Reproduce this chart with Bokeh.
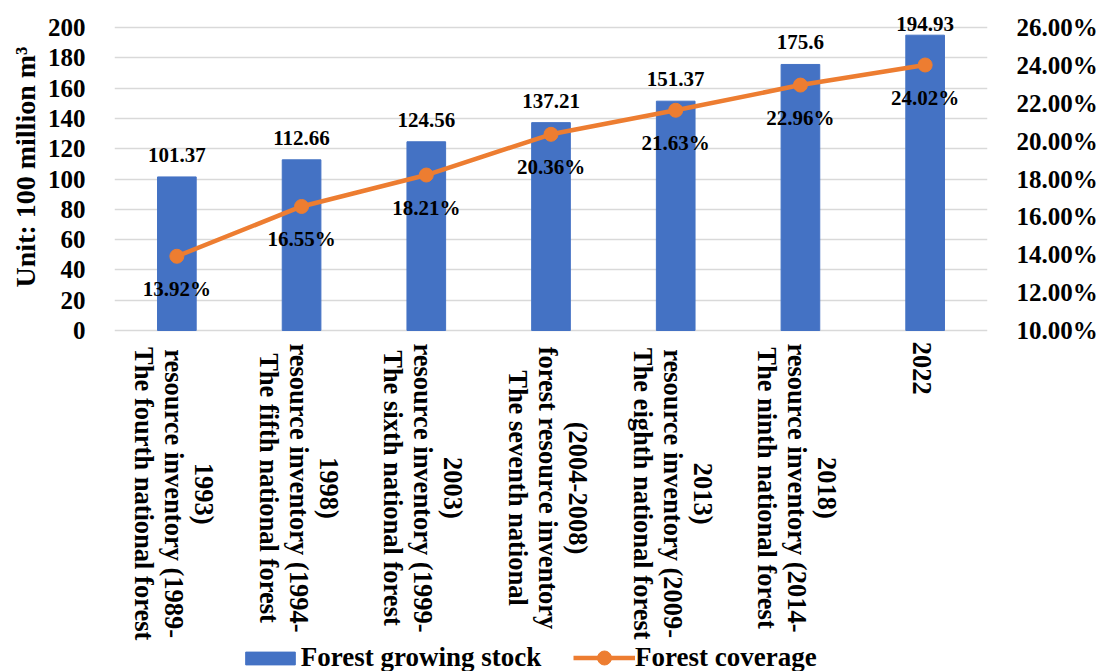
import numpy as np
from bokeh.plotting import figure
from bokeh.models import (Range1d, LinearAxis, FixedTicker, PrintfTickFormatter,
                          ColumnDataSource, LabelSet, Legend, LegendItem, Title)
from bokeh.core.properties import value
from bokeh.embed import file_html
from bokeh.resources import INLINE

# ---------------- data ----------------
categories = [
    "The fourth national forest\nresource inventory (1989-\n1993)",
    "The fifth national forest\nresource inventory (1994-\n1998)",
    "The sixth national forest\nresource inventory (1999-\n2003)",
    "The seventh national\nforest resource inventory\n(2004-2008)",
    "The eighth national forest\nresource inventory (2009-\n2013)",
    "The ninth national forest\nresource inventory (2014-\n2018)",
    "2022",
]
growing_stock = [101.37, 112.66, 124.56, 137.21, 151.37, 175.6, 194.93]
forest_coverage = [13.92, 16.55, 18.21, 20.36, 21.63, 22.96, 24.02]
stock_ticks = list(range(0, 201, 20))
coverage_ticks = list(range(10, 27, 2))

FONT = "Liberation Serif"
BLUE = "#4472C4"
ORANGE = "#ED7D31"
GRID = "#D9D9D9"

W, H = 1100, 671
ZERO_PX = 330          # pixel row of the value-axis minimum
TOP_PX = 27            # pixel row of the value-axis maximum
stock_lo, stock_hi = stock_ticks[0], stock_ticks[-1]
cov_lo, cov_hi = coverage_ticks[0], coverage_ticks[-1]
s_per_px = (stock_hi - stock_lo) / (ZERO_PX - TOP_PX)
c_per_px = (cov_hi - cov_lo) / (ZERO_PX - TOP_PX)
# frame spans the whole canvas height, so texts below the axis are not clipped
y_rng = Range1d(stock_lo - (H - ZERO_PX) * s_per_px, stock_lo + ZERO_PX * s_per_px)
c_rng = Range1d(cov_lo - (H - ZERO_PX) * c_per_px, cov_lo + ZERO_PX * c_per_px)

n = len(categories)
xs = np.arange(n) + 0.5

p = figure(width=W, height=H, output_backend="svg", toolbar_location=None,
           x_range=Range1d(0, n), y_range=y_rng,
           min_border_left=114, min_border_right=110, min_border_top=0,
           min_border_bottom=0)
p.outline_line_color = None
p.background_fill_color = "white"
p.border_fill_color = "white"
p.xaxis.visible = False
p.xgrid.visible = False
p.ygrid.ticker = FixedTicker(ticks=stock_ticks)
p.ygrid.grid_line_color = GRID
p.ygrid.grid_line_width = 1.5

# left axis
ly = p.yaxis[0]
ly.ticker = FixedTicker(ticks=stock_ticks)
ly.axis_line_color = None
ly.major_tick_line_color = None
ly.minor_tick_line_color = None
ly.major_label_standoff = 23
ly.major_label_text_font = FONT
ly.major_label_text_font_style = "bold"
ly.major_label_text_font_size = "25px"
ly.major_label_text_color = "black"

# left axis title (as a side title so it can sit beside the value range)
ytitle = Title(text="Unit: 100 million m\u00b3", align="left", offset=384,
               text_font=FONT, text_font_style="bold", text_font_size="28px",
               text_color="black", standoff=8)
p.add_layout(ytitle, "left")

# right axis
p.extra_y_ranges = {"pct": c_rng}
ry = LinearAxis(y_range_name="pct", ticker=FixedTicker(ticks=coverage_ticks),
                formatter=PrintfTickFormatter(format="%.2f%%"))
ry.axis_line_color = None
ry.major_tick_line_color = None
ry.minor_tick_line_color = None
ry.major_label_standoff = 23
ry.major_label_text_font = FONT
ry.major_label_text_font_style = "bold"
ry.major_label_text_font_size = "25px"
ry.major_label_text_color = "black"
p.add_layout(ry, "right")

# bars
bars = p.vbar(x=xs, bottom=stock_lo, top=growing_stock, width=0.31,
              fill_color=BLUE, line_color=BLUE)

# line
line_r = p.line(x=xs, y=forest_coverage, y_range_name="pct", line_color=ORANGE,
                line_width=4.5)
dots = p.scatter(x=xs, y=forest_coverage, y_range_name="pct", size=14,
                 fill_color=ORANGE, line_color=ORANGE)

# value labels above bars (kept inside the top of the chart)
bar_src = ColumnDataSource(dict(
    x=xs,
    y=np.minimum(np.array(growing_stock) + 22 * s_per_px, stock_hi + 4 * s_per_px),
    text=[f"{v:g}" for v in growing_stock],
))
p.add_layout(LabelSet(x="x", y="y", text="text", source=bar_src,
                      text_align="center", text_baseline="middle",
                      text_font=value(FONT), text_font_style="bold",
                      text_font_size="21px", text_color="black"))

# percent labels below points
pct_src = ColumnDataSource(dict(
    x=xs, y=forest_coverage,
    text=[f"{v:.2f}%" for v in forest_coverage],
))
p.add_layout(LabelSet(x="x", y="y", text="text", source=pct_src, y_range_name="pct",
                      y_offset=-33, text_align="center", text_baseline="middle",
                      text_font=value(FONT), text_font_style="bold",
                      text_font_size="21px", text_color="black"))

# category labels (rotated, multi-line, centred in a block hanging below the axis)
cx, cy, cxo, cyo, ctext = [], [], [], [], []
for i, cat in enumerate(categories):
    lines = cat.split("\n")
    k = len(lines)
    maxlen = max(len(s) for s in lines)
    center = 15 + maxlen * 11.4 / 2
    for j, s in enumerate(lines):
        cx.append(xs[i])
        cy.append(stock_lo)
        cxo.append((j - (k - 1) / 2) * 30 - 3)
        cyo.append(-center)
        ctext.append(s)
cat_src = ColumnDataSource(dict(x=cx, y=cy, xo=cxo, yo=cyo, text=ctext))
p.add_layout(LabelSet(x="x", y="y", text="text", source=cat_src,
                      x_offset="xo", y_offset="yo", angle=-np.pi / 2,
                      text_align="center", text_baseline="middle",
                      text_font=value(FONT), text_font_style="bold",
                      text_font_size="26.5px", text_color="black"))

# legends (two, so each key can have its own height)
common = dict(orientation="horizontal", padding=0, margin=0, glyph_width=62,
              label_standoff=0, label_text_font=FONT, label_text_font_style="bold",
              label_text_font_size="27px", label_text_color="black",
              background_fill_alpha=0, border_line_alpha=0)
leg1 = Legend(items=[LegendItem(label="Forest growing stock", renderers=[bars])],
              location=(124.8, -2), glyph_height=16, **common)
leg2 = Legend(items=[LegendItem(label="Forest coverage", renderers=[line_r, dots])],
              location=(459, -4), glyph_height=35, **common)
p.add_layout(leg1)
p.add_layout(leg2)

open("out.html", "w").write(file_html(p, INLINE))
